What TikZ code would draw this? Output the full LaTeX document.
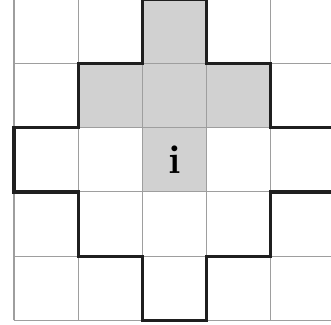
\documentclass[tikz,border=0pt]{standalone}
\usepackage{tikz}
\usetikzlibrary{positioning}

\begin{document}
\begin{tikzpicture}[
    x=1cm, y=1cm,
    sel/.style={fill=black!18, draw=none},
    kisi/.style={draw=black!38, line width=0.45pt},
    batas/.style={draw=black!88, line width=1.4pt, line join=miter},
    huruf/.style={font=\fontsize{18}{21}\selectfont\bfseries}
  ]
    \clip (-0.218,-0.057) rectangle (4.938,4.99);
    % shaded cells
    \fill[sel] (2,4) rectangle (3,5);
    \fill[sel] (1,3) rectangle (4,4);
    \fill[sel] (2,2) rectangle (3,3);
    % grid
    \draw[kisi] (0,0) grid (5,5);
    % outline of the neighbourhood
    \draw[batas] (2,5) -- (3,5) -- (3,4) -- (4,4) -- (4,3) -- (5,3) -- (5,2)
      -- (4,2) -- (4,1) -- (3,1) -- (3,0) -- (2,0) -- (2,1) -- (1,1) -- (1,2)
      -- (0,2) -- (0,3) -- (1,3) -- (1,4) -- (2,4) -- cycle;
    \node[huruf] (mid) at (2.5,2.5) {i};
  \end{tikzpicture}
\end{document}
